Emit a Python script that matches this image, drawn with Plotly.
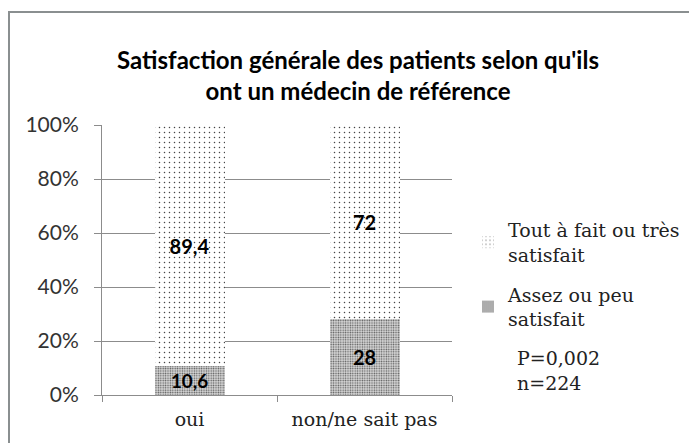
import plotly.graph_objects as go

categories = ["oui", "non/ne sait pas"]
series_names = ["Assez ou peu<br>satisfait", "Tout à fait ou très<br>satisfait"]
assez_peu = [10.6, 28]
tout_a_fait = [89.4, 72]
y_ticks = [0, 20, 40, 60, 80, 100]
y_tick_labels = ["0%", "20%", "40%", "60%", "80%", "100%"]
title_text = "Satisfaction générale des patients selon qu'ils<br>ont un médecin de référence"
stats_text = "P=0,002<br>n=224"

# page is offset by the 8px body margin
OFF = 8
W, H = 697 - OFF, 443 - OFF
L, R, T, B = 102 - OFF, 452 - OFF, 125 - OFF, 395 - OFF

def fmt(v):
    return ("%g" % v).replace(".", ",")

def px_x(p):
    return (p - OFF - L) / (R - L)

def px_y(p):
    return (B - (p - OFF)) / (B - T)

label_font = dict(family="Lato", size=20, color="black", weight="bold")

fig = go.Figure()
fig.add_trace(go.Bar(
    x=categories, y=assez_peu, name=series_names[0], legendgroup="a", legendrank=2,
    text=[fmt(v) for v in assez_peu], textposition="inside",
    insidetextanchor="middle", textangle=0, textfont=label_font,
    marker=dict(color="#c0c0c0", line=dict(width=0),
                pattern=dict(shape=".", size=2.4, solidity=0.35,
                             fgcolor="#5a5a5a", bgcolor="#dadada", fillmode="replace")),
    width=0.4,
))
fig.add_trace(go.Bar(
    x=categories, y=tout_a_fait, name=series_names[1], legendgroup="b", legendrank=1,
    text=[fmt(v) for v in tout_a_fait], textposition="inside",
    insidetextanchor="middle", textangle=0, textfont=label_font,
    marker=dict(color="white", line=dict(width=0),
                pattern=dict(shape=".", size=5, solidity=0.07,
                             fgcolor="#444444", bgcolor="white", fillmode="replace")),
    width=0.4,
))

fig.update_layout(
    width=W, height=H,
    margin=dict(l=L, r=W - R, t=T, b=H - B),
    barmode="stack",
    paper_bgcolor="white", plot_bgcolor="white",
    title=dict(text=title_text, x=px_x(358), xanchor="center", xref="paper",
               y=1 - (69 - OFF) / H, yanchor="middle",
               font=dict(family="Lato", size=24, color="black", weight="bold")),
    showlegend=True,
    legend=dict(x=px_x(468), y=px_y(211), xanchor="left", yanchor="top",
                traceorder="grouped",
                font=dict(family="DejaVu Serif", size=19, color="#222"),
                itemwidth=30, tracegroupgap=12, bgcolor="rgba(0,0,0,0)"),
    xaxis=dict(
        tickfont=dict(family="DejaVu Serif", size=19, color="#222"),
        showline=True, linecolor="#8c8c8c", linewidth=1,
        ticks="outside", tickson="boundaries", ticklen=6, tickcolor="#8c8c8c",
        showgrid=False, ticklabelstandoff=7,
    ),
    yaxis=dict(
        range=[0, 100], tickvals=y_ticks, ticktext=y_tick_labels,
        tickfont=dict(family="Lato", size=21, color="#333"),
        showline=True, linecolor="#8c8c8c", linewidth=1,
        ticks="outside", ticklen=7, tickcolor="#8c8c8c",
        showgrid=True, gridcolor="#8c8c8c", gridwidth=1,
        ticklabelstandoff=11, zeroline=False,
    ),
    annotations=[dict(
        text=stats_text, xref="paper", yref="paper",
        x=px_x(515), y=px_y(370), xanchor="left", yanchor="middle",
        align="left", showarrow=False,
        font=dict(family="DejaVu Serif", size=19, color="#222"),
    )],
    shapes=[
        dict(type="line", xref="paper", yref="paper",
             x0=px_x(8), x1=px_x(710), y0=px_y(12), y1=px_y(12),
             line=dict(color="#8a8f90", width=2)),
        dict(type="line", xref="paper", yref="paper",
             x0=px_x(9), x1=px_x(9), y0=px_y(12), y1=px_y(460),
             line=dict(color="#8a8f90", width=2)),
    ],
)

fig.write_html("out.html")
